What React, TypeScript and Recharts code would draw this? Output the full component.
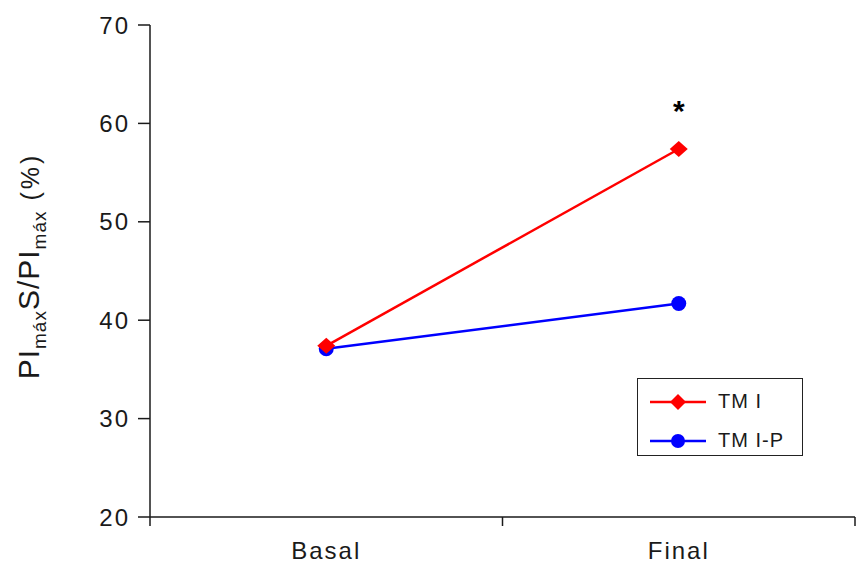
import React from 'react';
import {
  LineChart,
  Line,
  XAxis,
  YAxis,
  ReferenceDot
} from 'recharts';

// values
const moments = ['Basal', 'Final'];
const tmi = [37.4, 57.4];
const tmiP = [37.1, 41.7];
const yTicks = [20, 30, 40, 50, 60, 70];
const starValue = 62.2;

const data = moments.map((name, i) => ({
  name,
  tmi: tmi[i],
  tmiP: tmiP[i]
}));

const FONT = '"Liberation Sans", Arial, sans-serif';
const INK = '#1a1a1a';

// diamond marker for TMI
const Diamond = (props: any) => {
  const { cx, cy, fill } = props;
  if (cx == null || cy == null) return null;
  return (
    <path
      d={`M${cx},${cy - 8} L${cx + 9},${cy} L${cx},${cy + 8} L${cx - 9},${cy} Z`}
      fill={fill}
    />
  );
};

// category label plus tick marks on the band edges (Excel style)
const CatTick = (props: any) => {
  const { x, y, payload, index } = props;
  const half = payload.offset || 0;
  const axisY = y - 20;
  return (
    <g>
      <line x1={x - half} y1={axisY} x2={x - half} y2={axisY + 9} stroke={INK} strokeWidth={1.5} />
      {index === moments.length - 1 && (
        <line x1={x + half} y1={axisY} x2={x + half} y2={axisY + 9} stroke={INK} strokeWidth={1.5} />
      )}
      <text x={x} y={y} dy={22} textAnchor="middle" fontSize={24} fill={INK} fontFamily={FONT} letterSpacing={2}>
        {payload.value}
      </text>
    </g>
  );
};

const YLabel = () => (
  <text
    transform="translate(39, 266) rotate(-90)"
    textAnchor="middle"
    fontFamily={FONT}
    fill={INK}
    fontSize={30}
    letterSpacing={1}
  >
    <tspan>PI</tspan>
    <tspan fontSize={19} dy={7}>máx</tspan>
    <tspan dy={-7}>S/PI</tspan>
    <tspan fontSize={19} dy={7}>máx</tspan>
    <tspan dy={-7} fontSize={25} letterSpacing={3}>{'  (%)'}</tspan>
  </text>
);

const LegendBox = () => (
  <div
    style={{
      position: 'absolute',
      left: 637,
      top: 378,
      width: 166,
      height: 78,
      border: '1.5px solid #222',
      boxSizing: 'border-box',
      fontFamily: FONT,
      fontSize: 20,
      color: INK
    }}
  >
    {[
      { label: 'TM I', color: '#ff0000', shape: 'diamond' },
      { label: 'TM I-P', color: '#0000ff', shape: 'circle' }
    ].map((item, i) => (
      <div
        key={item.label}
        style={{ position: 'absolute', left: 10, top: 11 + i * 39, display: 'flex', alignItems: 'center' }}
      >
        <svg width={60} height={20}>
          <line x1={2} y1={10} x2={58} y2={10} stroke={item.color} strokeWidth={2.5} />
          {item.shape === 'diamond' ? (
            <path d="M30,2 L38,10 L30,18 L22,10 Z" fill={item.color} />
          ) : (
            <circle cx={30} cy={10} r={7} fill={item.color} />
          )}
        </svg>
        <span style={{ marginLeft: 10, letterSpacing: 1 }}>{item.label}</span>
      </div>
    ))}
  </div>
);

export default function App() {
  return (
    <div style={{ position: 'absolute', left: 0, top: 0, width: 857, height: 567, background: '#fff' }}>
      <LineChart
        width={857}
        height={567}
        data={data}
        margin={{ top: 25, right: 2, bottom: 0, left: 60 }}
      >
        <XAxis
          dataKey="name"
          scale="band"
          height={50}
          axisLine={{ stroke: INK, strokeWidth: 1.5 }}
          tickLine={false}
          tickSize={0}
          tickMargin={20}
          tick={<CatTick />}
        />
        <YAxis
          type="number"
          domain={[20, 70]}
          ticks={yTicks}
          width={90}
          tickSize={12}
          tickMargin={8}
          axisLine={{ stroke: INK, strokeWidth: 1.5 }}
          tickLine={{ stroke: INK, strokeWidth: 1.5 }}
          tick={{ fontSize: 24, fill: INK, fontFamily: FONT, letterSpacing: 2 }}
          label={{ content: () => <YLabel /> }}
        />
        <Line
          dataKey="tmiP"
          stroke="#0000ff"
          strokeWidth={2.5}
          dot={{ r: 7.5, fill: '#0000ff', stroke: 'none' }}
          isAnimationActive={false}
        />
        <Line
          dataKey="tmi"
          stroke="#ff0000"
          strokeWidth={2.5}
          dot={<Diamond fill="#ff0000" />}
          isAnimationActive={false}
        />
        <ReferenceDot
          x="Final"
          y={starValue}
          r={0}
          label={{ value: '*', position: 'center', fontSize: 30, fontWeight: 'bold', fill: '#000', fontFamily: FONT, dy: 9 }}
        />
      </LineChart>
      <LegendBox />
    </div>
  );
}
